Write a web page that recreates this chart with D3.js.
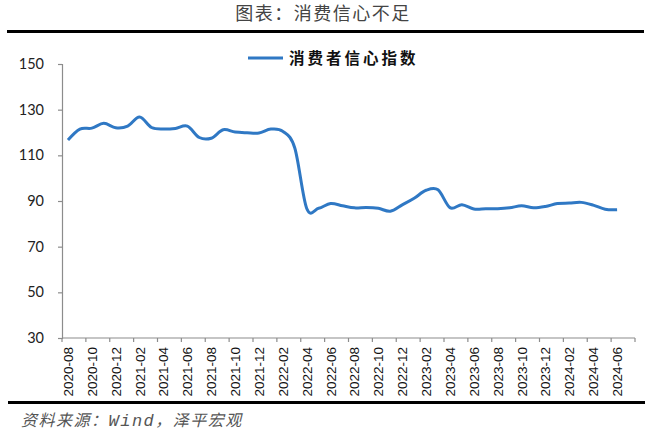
<!DOCTYPE html>
<html>
<head>
<meta charset="utf-8">
<script src="https://cdn.jsdelivr.net/npm/d3@7"></script>
<style>
  html, body { margin: 0; padding: 0; background: #fff; }
  svg { display: block; }
</style>
</head>
<body>
<svg id="chart" width="650" height="430"></svg>
<script>
const title = "图表：消费信心不足";
const sourceParts = ["资料来源：", "Wind", "，泽平宏观"];
const seriesName = "消费者信心指数";
const months = [
  "2020-08","2020-09","2020-10","2020-11","2020-12",
  "2021-01","2021-02","2021-03","2021-04","2021-05","2021-06","2021-07","2021-08","2021-09","2021-10","2021-11","2021-12",
  "2022-01","2022-02","2022-03","2022-04","2022-05","2022-06","2022-07","2022-08","2022-09","2022-10","2022-11","2022-12",
  "2023-01","2023-02","2023-03","2023-04","2023-05","2023-06","2023-07","2023-08","2023-09","2023-10","2023-11","2023-12",
  "2024-01","2024-02","2024-03","2024-04","2024-05","2024-06","2024-07"
];
const values = [
  116.7, 121.5, 121.9, 124.0, 122.1,
  122.8, 126.8, 122.2, 121.5, 121.8, 122.8, 117.8, 117.5, 121.2, 120.2, 119.9, 119.8,
  121.5, 120.5, 113.2, 86.7, 86.8, 88.9, 87.9, 87.0, 87.2, 86.8, 85.5, 88.3,
  91.2, 94.7, 94.9, 87.1, 88.4, 86.5, 86.6, 86.6, 87.0, 87.9, 87.0, 87.6,
  88.9, 89.1, 89.4, 88.2, 86.4, 86.2, null
];
const yTicks = [30, 50, 70, 90, 110, 130, 150];

const svg = d3.select("#chart");
const mLeft = 62, mRight = 635, mTop = 64, mBottom = 338;

const x = d3.scaleBand().domain(months).range([mLeft, mRight]).padding(0);
const y = d3.scaleLinear().domain([30, 150]).range([mBottom, mTop]);

// Title
svg.append("text")
  .attr("x", 323).attr("y", 20)
  .attr("text-anchor", "middle")
  .attr("font-family", "'Noto Sans CJK SC', sans-serif")
  .attr("font-size", 18)
  .attr("letter-spacing", 1.5)
  .attr("fill", "#444")
  .text(title);
svg.append("line")
  .attr("x1", 7).attr("x2", 644).attr("y1", 31.5).attr("y2", 31.5)
  .attr("stroke", "#000").attr("stroke-width", 3);

// Y axis
const yAxis = d3.axisLeft(y).tickValues(yTicks).tickSize(4).tickPadding(14);
const gy = svg.append("g").attr("transform", `translate(${mLeft},0)`).call(yAxis);
gy.select(".domain").attr("stroke", "#8c8c8c").attr("stroke-width", 1.2);
gy.selectAll(".tick line").attr("stroke", "#8c8c8c").attr("stroke-width", 1.2);
gy.selectAll(".tick text")
  .attr("font-family", "Lato, 'Liberation Sans', sans-serif")
  .attr("font-size", 14.5).attr("fill", "#222");

// X axis: ticks at category boundaries every 2 months
const xAxisG = svg.append("g").attr("transform", `translate(0,${mBottom})`);
xAxisG.append("line")
  .attr("x1", mLeft).attr("x2", mRight).attr("y1", 0).attr("y2", 0)
  .attr("stroke", "#8c8c8c").attr("stroke-width", 1.2);
const boundaryIdx = d3.range(0, months.length + 1, 2);
xAxisG.selectAll("line.tk").data(boundaryIdx).join("line")
  .attr("class", "tk")
  .attr("x1", i => i < months.length ? x(months[i]) : mRight)
  .attr("x2", i => i < months.length ? x(months[i]) : mRight)
  .attr("y1", 0).attr("y2", 4)
  .attr("stroke", "#8c8c8c").attr("stroke-width", 1.2);
const labelMonths = months.filter((m, i) => i % 2 === 0 && values[i] != null);
xAxisG.selectAll("text.lbl").data(labelMonths).join("text")
  .attr("class", "lbl")
  .attr("transform", m => `translate(${x(m) + x.bandwidth() / 2 + 5},9) rotate(-90)`)
  .attr("text-anchor", "end")
  .attr("font-family", "'Liberation Sans', Arial, sans-serif")
  .attr("font-size", 13.5)
  .attr("fill", "#111")
  .text(m => m);

// Line
const line = d3.line()
  .defined(d => d.v != null)
  .x(d => x(d.m) + x.bandwidth() / 2)
  .y(d => y(d.v))
  .curve(d3.curveCatmullRom.alpha(0));
svg.append("path")
  .datum(months.map((m, i) => ({ m, v: values[i] })).filter(d => d.v != null))
  .attr("d", line)
  .attr("fill", "none")
  .attr("stroke", "#2F78C4")
  .attr("stroke-width", 3)
  .attr("stroke-linejoin", "round");

// Legend
svg.append("line")
  .attr("x1", 248).attr("x2", 283).attr("y1", 58).attr("y2", 58)
  .attr("stroke", "#2F78C4").attr("stroke-width", 3);
svg.append("text")
  .attr("x", 289).attr("y", 64)
  .attr("font-family", "'Noto Sans CJK SC', sans-serif")
  .attr("font-weight", "bold")
  .attr("font-size", 15.5)
  .attr("letter-spacing", 3)
  .attr("fill", "#111")
  .text(seriesName);

// Bottom rule and source
svg.append("line")
  .attr("x1", 8).attr("x2", 645).attr("y1", 402.5).attr("y2", 402.5)
  .attr("stroke", "#000").attr("stroke-width", 3);
const src = svg.append("text")
  .attr("x", 21).attr("y", 426)
  .attr("font-family", "'Noto Sans CJK SC', sans-serif")
  .attr("font-style", "italic")
  .attr("font-size", 16)
  .attr("letter-spacing", 1.5)
  .attr("fill", "#555");
src.selectAll("tspan").data(sourceParts).join("tspan")
  .attr("font-family", (d, i) => i === 1 ? "'Liberation Mono', monospace" : null)
  .attr("font-size", (d, i) => i === 1 ? 17 : null)
  .text(d => d);
</script>
</body>
</html>
